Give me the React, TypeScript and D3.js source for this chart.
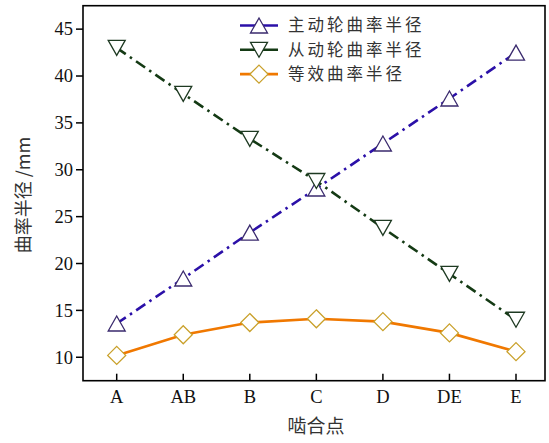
import React from "react";
import * as d3 from "d3";

const categories = ["A", "AB", "B", "C", "D", "DE", "E"];
const driveRadius = [13.6, 18.4, 23.3, 28.0, 32.8, 37.6, 42.5];
const drivenRadius = [43.0, 38.1, 33.3, 28.8, 23.8, 18.9, 14.0];
const equivRadius = [10.2, 12.4, 13.7, 14.1, 13.8, 12.6, 10.6];
const yTicks = [10, 15, 20, 25, 30, 35, 40, 45];
const legendLabels = ["主动轮曲率半径", "从动轮曲率半径", "等效曲率半径"];

const W = 549;
const H = 443;
const left = 83;
const right = 545;
const top = 5.7;
const bottom = 380.7;

const serif = "Liberation Serif, serif";
const cjk = "Noto Sans CJK SC, sans-serif";

type Marker = "up" | "down" | "diamond";

function markerPath(kind: Marker, cx: number, cy: number): string {
  if (kind === "up") {
    const w = 8.5, h = 7.5;
    return `M${cx},${cy - h}L${cx + w},${cy + h}L${cx - w},${cy + h}Z`;
  }
  if (kind === "down") {
    const w = 8.5, h = 7.5;
    return `M${cx - w},${cy - h}L${cx + w},${cy - h}L${cx},${cy + h}Z`;
  }
  const r = 9;
  return `M${cx},${cy - r}L${cx + r},${cy}L${cx},${cy + r}L${cx - r},${cy}Z`;
}

export default function App() {
  const x = d3.scalePoint<string>().domain(categories).range([116.7, 516]);
  const y = d3.scaleLinear().domain([7.5, 47.5]).range([bottom, top]);

  const series = [
    { name: legendLabels[0], values: driveRadius, line: "#2b10a8", stroke: "#3a2a6e", marker: "up" as Marker, dash: "11,5,2.5,5" },
    { name: legendLabels[1], values: drivenRadius, line: "#143a14", stroke: "#1e3a22", marker: "down" as Marker, dash: "11,5,2.5,5" },
    { name: legendLabels[2], values: equivRadius, line: "#f07800", stroke: "#c9a02a", marker: "diamond" as Marker, dash: "" },
  ];

  const lineGen = d3
    .line<number>()
    .x((_, i) => x(categories[i]) as number)
    .y((d) => y(d));

  return (
    <svg
      width={W}
      height={H}
      style={{ position: "absolute", left: 0, top: 0, background: "#fff" }}
    >
      <rect x={0} y={0} width={W} height={H} fill="#fff" />
      {yTicks.map((t) => (
        <g key={t}>
          <line x1={left - 7} x2={left} y1={y(t)} y2={y(t)} stroke="#000" strokeWidth={1.5} />
          <text x={73} y={y(t)} dy="0.34em" textAnchor="end" fontFamily={serif} fontSize={18.5} fill="#111">
            {t}
          </text>
        </g>
      ))}
      {categories.map((c) => (
        <g key={c}>
          <line x1={x(c)} x2={x(c)} y1={bottom} y2={bottom - 7} stroke="#000" strokeWidth={1.5} />
          <text x={x(c)} y={403} textAnchor="middle" fontFamily={serif} fontSize={18.5} fill="#111">
            {c}
          </text>
        </g>
      ))}
      {series.map((s) => (
        <path
          key={s.name + "l"}
          d={lineGen(s.values) || ""}
          fill="none"
          stroke={s.line}
          strokeWidth={2.6}
          strokeDasharray={s.dash || undefined}
          strokeLinecap="butt"
        />
      ))}
      {series.map((s) =>
        s.values.map((v, i) => (
          <path
            key={s.name + i}
            d={markerPath(s.marker, x(categories[i]) as number, y(v))}
            fill="#fff"
            stroke={s.stroke}
            strokeWidth={1.3}
          />
        ))
      )}
      <rect x={left} y={top} width={right - left} height={bottom - top} fill="none" stroke="#000" strokeWidth={1.6} />
      {series.map((s, i) => {
        const ly = 25.5 + i * 24.3;
        return (
          <g key={s.name + "lg"}>
            <line x1={240} x2={278} y1={ly} y2={ly} stroke={s.line} strokeWidth={2.6} />
            <path d={markerPath(s.marker, 259, ly)} fill="#fff" stroke={s.stroke} strokeWidth={1.3} />
            <text x={288} y={ly} dy="0.36em" fontFamily={cjk} fontSize={16.5} letterSpacing={3} fill="#333">
              {s.name}
            </text>
          </g>
        );
      })}
      <text
        transform={`translate(24,195) rotate(-90)`}
        textAnchor="middle"
        dy="0.35em"
        fontFamily={cjk}
        fontSize={18}
        fill="#333"
      >
        曲率半径 /mm
      </text>
      <text x={316} y={426} dy="0.35em" textAnchor="middle" fontFamily={cjk} fontSize={19} fill="#333">
        啮合点
      </text>
    </svg>
  );
}
